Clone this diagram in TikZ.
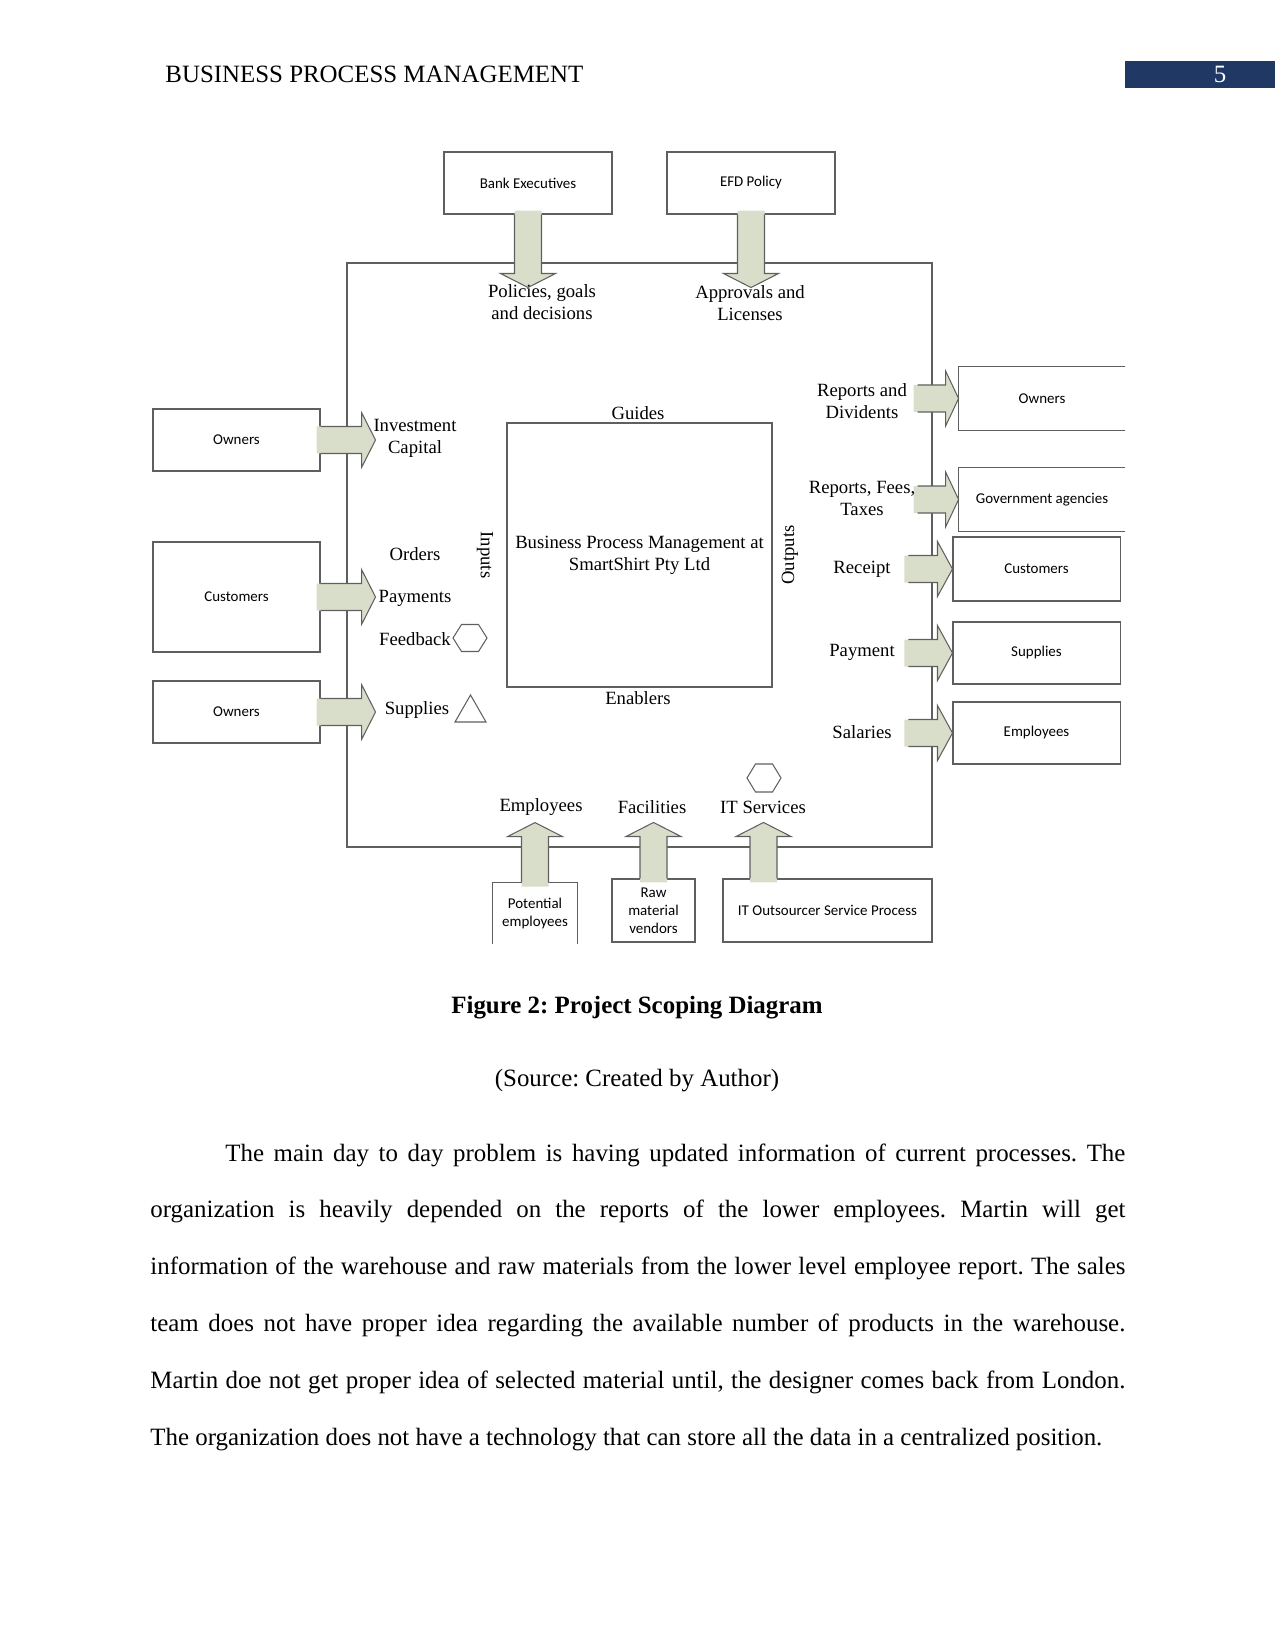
\documentclass[tikz,border=0pt]{standalone}
\usepackage{fontspec}
\setmainfont{Liberation Serif}
\newfontfamily\boxfont{Carlito}
\usetikzlibrary{calc}
\definecolor{arrowfill}{RGB}{217,222,203}
\definecolor{headblue}{RGB}{31,56,100}
\definecolor{linegray}{RGB}{95,95,95}
\newcommand{\pu}{0.4818pt}
\frenchspacing

\tikzset{
  box/.style={draw=linegray, line width=0.5pt, inner sep=1pt, align=center,
    font=\boxfont\fontsize{7.2}{8.6}\selectfont},
  openbox/.style={inner sep=1pt, align=center, font=\boxfont\fontsize{7.2}{8.6}\selectfont},
  lbl/.style={align=center, inner sep=0pt, font=\fontsize{9}{10.6}\selectfont},
  bline/.style={draw=linegray, line width=0.5pt},
  frame/.style={draw=linegray, line width=0.55pt},
  body/.style={inner sep=0pt, font=\fontsize{12}{14}\selectfont},
}

% block arrow: rotation, start, shaft length, head length
\newcommand{\barrow}[4]{%
  \begin{scope}[shift={#2}, rotate=#1]
    \fill[arrowfill] (-4,-13.5) -- (#3,-13.5) -- (#3,-27.5) -- ({#3+#4},0)
      -- (#3,27.5) -- (#3,13.5) -- (-4,13.5) -- cycle;
    \draw[bline] (0,-13.5) -- (#3,-13.5) -- (#3,-27.5) -- ({#3+#4},0)
      -- (#3,27.5) -- (#3,13.5) -- (0,13.5);
  \end{scope}}

\begin{document}
\begin{tikzpicture}[x=0.4818pt,y=-0.4818pt]
\useasboundingbox (0,0) rectangle (1275,1650);

% running head
\node[body, anchor=base west] (head) at (165,83) {BUSINESS PROCESS MANAGEMENT};
\fill[headblue] (1125,61) rectangle (1275,88);
\node[body, text=white, anchor=base] (page) at (1220,83) {5};

% outer frame
\draw[frame] (347,263) rectangle (932,847);

% boxes on top
\node[box, minimum width=168*\pu, minimum height=62*\pu] (bank) at (528,183) {Bank Executives};
\node[box, minimum width=168*\pu, minimum height=62*\pu] (efd) at (751,183) {EFD Policy};

% boxes on the left
\node[box, minimum width=167*\pu, minimum height=62*\pu] (own1) at (236.5,440) {Owners};
\node[box, minimum width=167*\pu, minimum height=110*\pu] (cust1) at (236.5,597) {Customers};
\node[box, minimum width=167*\pu, minimum height=62*\pu] (own2) at (236.5,712) {Owners};

% boxes on the right
\node[openbox, minimum width=166*\pu, minimum height=63*\pu] (own3) at (1042,398.5) {Owners};
\draw[bline] (own3.north east) -- (own3.north west) -- (own3.south west) -- (own3.south east);
\node[openbox, minimum width=166*\pu, minimum height=63*\pu] (gov) at (1042,499.5) {Government agencies};
\draw[bline] (gov.north east) -- (gov.north west) -- (gov.south west) -- (gov.south east);
\node[box, minimum width=167*\pu, minimum height=64*\pu] (cust2) at (1036.5,569) {Customers};
\node[box, minimum width=167*\pu, minimum height=62*\pu] (supp) at (1036.5,653) {Supplies};
\node[box, minimum width=167*\pu, minimum height=62*\pu] (empl) at (1036.5,733) {Employees};

% boxes below
\node[openbox, minimum width=84*\pu, minimum height=61*\pu] (pot) at (535,913.5) {Potential\\employees};
\draw[bline] (pot.south west) -- (pot.north west) -- (pot.north east) -- (pot.south east);
\node[box, minimum width=83*\pu, minimum height=63*\pu] (raw) at (653.5,910.5) {Raw\\material\\vendors};
\node[box, minimum width=209*\pu, minimum height=63*\pu] (its) at (827.5,910.5) {IT Outsourcer Service Process};

% block arrows
\barrow{-90}{($(bank.south)$)}{59}{14}
\barrow{-90}{($(efd.south)$)}{59}{14}
\foreach \b in {own1,cust1,own2} {
  \barrow{0}{($(\b.east)$)}{41}{14}
}
\foreach \b in {own3,gov} {
  \barrow{0}{($(\b.west)+(-41,0)$)}{28}{13}
}
\foreach \b in {cust2,supp,empl} {
  \barrow{0}{($(\b.west)+(-44,0)$)}{29}{15}
}
\barrow{90}{($(pot.north)$)}{46}{14}
\barrow{90}{($(raw.north)$)}{42}{14}
\barrow{90}{($(its.north)+(-64,0)$)}{42}{14}

% the process
\node[draw=linegray, line width=0.55pt, minimum width=265*\pu, minimum height=264*\pu, lbl] (bpm) at (639.5,555)
  {Business Process Management at\\SmartShirt Pty Ltd};
\node[lbl] (guides) at (638,413) {Guides};
\node[lbl] (enab) at (638,698) {Enablers};
\node[lbl, rotate=-90] (inputs) at (485,555) {Inputs};
\node[lbl, rotate=90] (outputs) at (790,555) {Outputs};

% guides
\node[lbl] (pol) at (542,302) {Policies, goals\\and decisions};
\node[lbl] (appr) at (750,303) {Approvals and\\Licenses};

% inputs
\node[lbl] (inv) at (415,438) {Investment\\Capital};
\node[lbl] (ord) at (415,554) {Orders};
\node[lbl] (pay) at (415,598) {Payments};
\node[lbl] (feed) at (415,639) {Feedback};
\node[lbl] (sup) at (417,710) {Supplies};
\coordinate (hexa) at (470,638);
\draw[bline] ($(hexa)+(-17,0)$) -- ++(8.5,13.5) -- ++(17,0) -- ++(8.5,-13.5)
  -- ++(-8.5,-13.5) -- ++(-17,0) -- cycle;
\coordinate (tri) at (470.5,709);
\draw[bline] ($(tri)+(-15.5,13)$) -- ++(31,0) -- ++(-15.5,-27) -- cycle;

% outputs
\node[lbl] (rep) at (862,401) {Reports and\\Dividents};
\node[lbl] (fees) at (862,498) {Reports, Fees,\\Taxes};
\node[lbl] (rec) at (862,569) {Receipt};
\node[lbl] (pmt) at (862,652) {Payment};
\node[lbl] (sal) at (862,732) {Salaries};

% enablers
\node[lbl] (emp) at (541,807) {Employees};
\node[lbl] (fac) at (652,807) {Facilities};
\node[lbl] (itsv) at (763,807) {IT Services};
\coordinate (hexb) at (764,778);
\draw[bline] ($(hexb)+(-17,0)$) -- ++(8.5,14) -- ++(17,0) -- ++(8.5,-14)
  -- ++(-8.5,-14) -- ++(-17,0) -- cycle;

% caption and text
\node[body, anchor=base, font=\bfseries\fontsize{12}{14}\selectfont] (cap) at (637,1013) {Figure 2: Project Scoping Diagram};
\node[body, anchor=base] (src) at (637,1086) {(Source: Created by Author)};
\node[body, anchor=base west, text width=975*\pu, align=justify, font=\fontsize{12}{27.4}\selectfont] (para) at (150,1161)
  {\hspace*{0.5in}The main day to day problem is having updated information of current processes. The\linebreak
  organization is heavily depended on the reports of the lower employees. Martin will get\linebreak
  information of the warehouse and raw materials from the lower level employee report. The sales\linebreak
  team does not have proper idea regarding the available number of products in the warehouse.\linebreak
  Martin doe not get proper idea of selected material until, the designer comes back from London.\linebreak
  The organization does not have a technology that can store all the data in a centralized position.};
\end{tikzpicture}
\end{document}
